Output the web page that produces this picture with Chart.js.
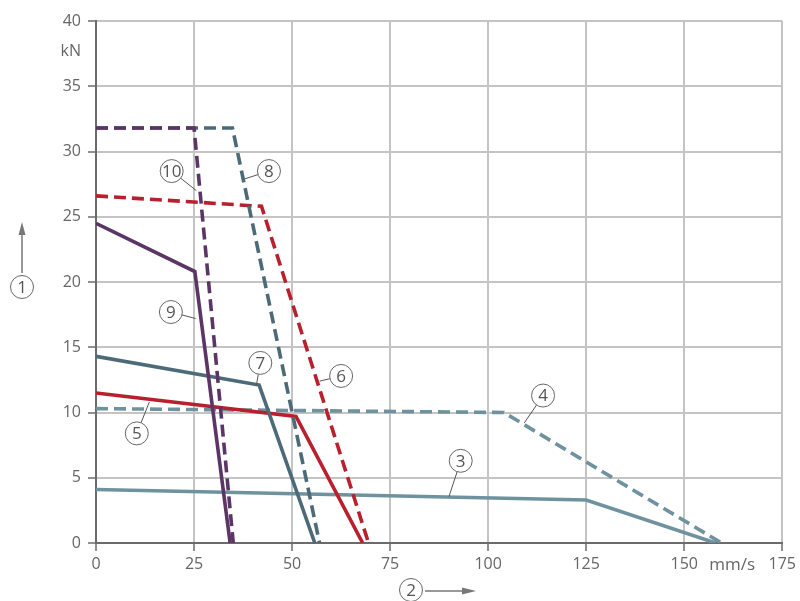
<!DOCTYPE html>
<html>
<head>
<meta charset="utf-8">
<script src="https://cdn.jsdelivr.net/npm/chart.js@4/dist/chart.umd.min.js"></script>
<style>
  html, body { margin: 0; padding: 0; background: #fff; }
  #wrap { width: 800px; height: 601px; }
</style>
</head>
<body>
<div id="wrap"><canvas id="app"></canvas></div>
<script>
// axis ticks
const xTicks = [0, 25, 50, 75, 100, 125, 150, 175]
const yTicks = [0, 5, 10, 15, 20, 25, 30, 35, 40]

// curves (x in mm/s, y in kN)
const curve3X = [0, 125, 158]
const curve3Y = [4.1, 3.3, 0]
const curve4X = [0, 104, 159.5]
const curve4Y = [10.3, 10.0, 0]
const curve5X = [0, 51, 68]
const curve5Y = [11.5, 9.7, 0]
const curve6X = [0, 42.2, 69.5]
const curve6Y = [26.6, 25.8, 0]
const curve7X = [0, 41.6, 55.8]
const curve7Y = [14.3, 12.1, 0]
const curve8X = [0, 34.8, 57]
const curve8Y = [31.8, 31.8, 0]
const curve9X = [0, 25.2, 34.2]
const curve9Y = [24.5, 20.8, 0]
const curve10X = [0, 25, 35]
const curve10Y = [31.8, 31.8, 0]

// callout labels: number, circle centre, end of leader on the curve (data units)
const calloutText = ['10', '8', '9', '7', '6', '5', '4', '3']
const calloutAt = [[19.3, 28.5], [44.1, 28.5], [19.1, 17.7], [41.9, 13.8], [62.5, 12.8], [10.4, 8.4], [114, 11.3], [93, 6.3]]
const calloutTo = [[25.6, 27.0], [37.9, 27.9], [25.4, 17.2], [40.9, 12.1], [57.0, 12.4], [13.6, 10.8], [109.2, 9.2], [90, 3.55]]

const RED = '#b8202e'
const PURPLE = '#5c3567'
const SLATE = '#4c6a78'
const LIGHT = '#6f929f'

function pts(xs, ys) {
  return xs.map((x, i) => ({ x: x, y: ys[i] }))
}

function line(xs, ys, color, dashed) {
  return {
    data: pts(xs, ys),
    borderColor: color,
    backgroundColor: color,
    borderWidth: 3.6,
    borderDash: dashed ? [12, 6] : [],
    showLine: true,
    pointRadius: 0,
    tension: 0,
    borderJoinStyle: 'miter'
  }
}

const extras = {
  id: 'extras',
  afterDatasetsDraw(chart) {
    const ctx = chart.ctx
    const xs = chart.scales.x
    const ys = chart.scales.y
    const a = chart.chartArea
    ctx.save()
    ctx.font = '16px "Open Sans", sans-serif'
    ctx.fillStyle = '#666'
    ctx.textBaseline = 'middle'
    ctx.textAlign = 'right'
    ctx.fillText('kN', 81, ys.getPixelForValue(37.5) - 2)
    ctx.textAlign = 'center'
    ctx.font = '17px "Open Sans", sans-serif'
    ctx.fillText('mm/s', xs.getPixelForValue(162.2), a.bottom + 22)

    function circle(cx, cy, txt) {
      ctx.beginPath()
      ctx.arc(cx, cy, 11.5, 0, Math.PI * 2)
      ctx.fillStyle = '#fff'
      ctx.fill()
      ctx.lineWidth = 1
      ctx.strokeStyle = '#666'
      ctx.stroke()
      ctx.fillStyle = '#555'
      ctx.textAlign = 'center'
      ctx.textBaseline = 'middle'
      ctx.font = '17px "Open Sans", sans-serif'
      ctx.fillText(txt, cx, cy + 1)
    }

    calloutText.forEach((t, i) => {
      const cx = xs.getPixelForValue(calloutAt[i][0])
      const cy = ys.getPixelForValue(calloutAt[i][1])
      const tx = xs.getPixelForValue(calloutTo[i][0])
      const ty = ys.getPixelForValue(calloutTo[i][1])
      const ang = Math.atan2(ty - cy, tx - cx)
      ctx.beginPath()
      ctx.moveTo(cx + Math.cos(ang) * 11.5, cy + Math.sin(ang) * 11.5)
      ctx.lineTo(tx, ty)
      ctx.lineWidth = 1
      ctx.strokeStyle = '#555'
      ctx.stroke()
      circle(cx, cy, t)
    })

    // axis arrows
    ctx.strokeStyle = '#777'
    ctx.fillStyle = '#777'
    ctx.lineWidth = 1.5
    ctx.beginPath()
    ctx.moveTo(22, 273)
    ctx.lineTo(22, 232)
    ctx.stroke()
    ctx.beginPath()
    ctx.moveTo(22, 222)
    ctx.lineTo(18.5, 235)
    ctx.lineTo(25.5, 235)
    ctx.closePath()
    ctx.fill()
    circle(22, 287, '1')

    ctx.strokeStyle = '#777'
    ctx.fillStyle = '#777'
    ctx.lineWidth = 1.5
    ctx.beginPath()
    ctx.moveTo(425, 591)
    ctx.lineTo(462, 591)
    ctx.stroke()
    ctx.beginPath()
    ctx.moveTo(476, 591)
    ctx.lineTo(462, 587.5)
    ctx.lineTo(462, 594.5)
    ctx.closePath()
    ctx.fill()
    circle(411, 590, '2')
    ctx.restore()
  }
}

// Chart.js paints dataset 0 last, so the topmost curve goes first
new Chart(document.getElementById('app'), {
  type: 'scatter',
  data: {
    datasets: [
      line(curve10X, curve10Y, PURPLE, true),
      line(curve9X, curve9Y, PURPLE, false),
      line(curve8X, curve8Y, SLATE, true),
      line(curve7X, curve7Y, SLATE, false),
      line(curve6X, curve6Y, RED, true),
      line(curve5X, curve5Y, RED, false),
      line(curve4X, curve4Y, LIGHT, true),
      line(curve3X, curve3Y, LIGHT, false)
    ]
  },
  options: {
    responsive: true,
    maintainAspectRatio: false,
    animation: false,
    layout: { padding: { top: 21, right: 16, left: 0, bottom: 0 } },
    plugins: { legend: { display: false }, tooltip: { enabled: false } },
    scales: {
      x: {
        type: 'linear',
        min: 0,
        max: 175,
        afterBuildTicks: s => { s.ticks = xTicks.map(v => ({ value: v })) },
        afterFit: s => { s.height = 58 },
        ticks: {
          color: '#666',
          font: { family: '"Open Sans", sans-serif', size: 16 },
          padding: 4,
          maxRotation: 0,
          callback: v => v
        },
        grid: { color: '#c4c4c4', lineWidth: 2, tickLength: 8, tickColor: '#6b6b6b', tickWidth: 1.5 },
        border: { color: '#6b6b6b', width: 2 }
      },
      y: {
        type: 'linear',
        min: 0,
        max: 40,
        afterBuildTicks: s => { s.ticks = yTicks.map(v => ({ value: v })) },
        afterFit: s => { s.width = 96 },
        ticks: {
          color: '#666',
          font: { family: '"Open Sans", sans-serif', size: 16 },
          padding: 7,
          callback: v => v
        },
        grid: { color: '#c4c4c4', lineWidth: 2, tickLength: 8, tickColor: '#6b6b6b', tickWidth: 1.5 },
        border: { color: '#6b6b6b', width: 2 }
      }
    }
  },
  plugins: [extras]
})
</script>
</body>
</html>
